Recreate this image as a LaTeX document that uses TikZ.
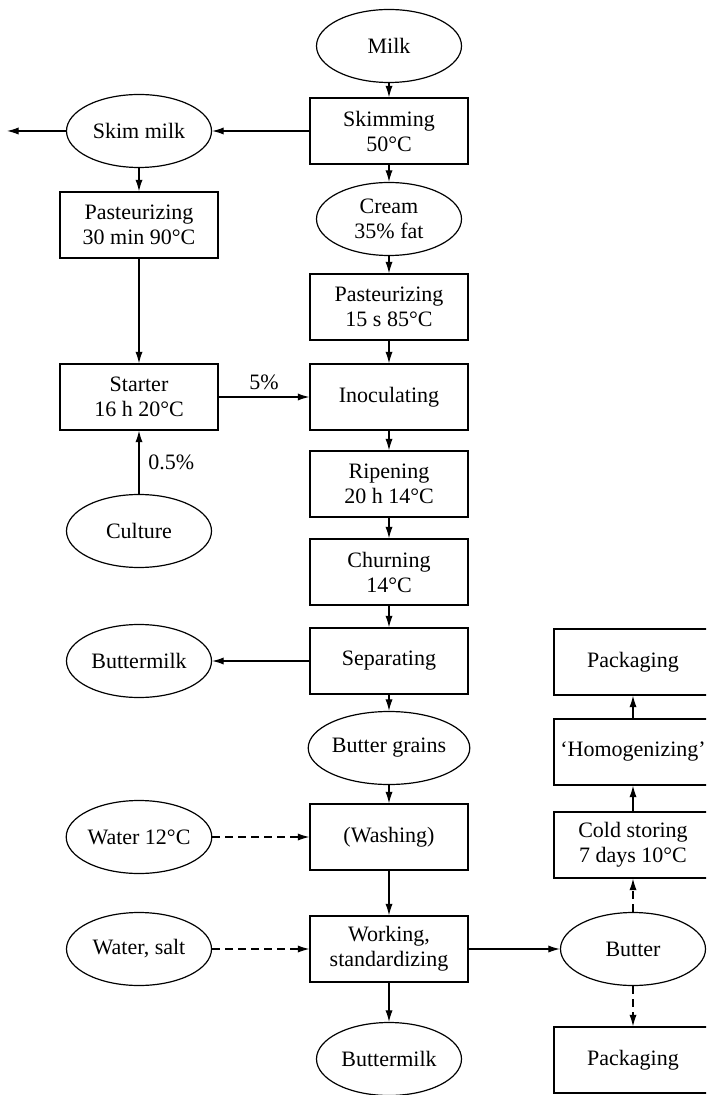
\documentclass[tikz,border=0pt]{standalone}
\usepackage{fontspec}
\setmainfont{Liberation Serif}
\usetikzlibrary{arrows.meta,shapes.geometric}
\begin{document}
\begin{tikzpicture}[x=0.5pt,y=-0.5pt,
  every node/.style={font=\fontsize{11}{12.5}\selectfont, align=center},
  procbox/.style={draw, line width=0.6pt, minimum width=79pt, minimum height=33pt, inner sep=1pt},
  matl/.style={draw, ellipse, line width=0.6pt, minimum width=72.5pt, minimum height=36.5pt, inner sep=0pt},
  flow/.style={line width=0.6pt, -{Latex[length=5.8pt,width=3.6pt]}},
  dflow/.style={flow, dash pattern=on 4pt off 2.5pt},
  lbl/.style={font=\fontsize{11}{12.5}\selectfont}
]
\clip (0,0) rectangle (706,1095);
% main column
\node[matl] (milk) at (389,46) {Milk};
\node[procbox] (skim) at (389,131) {Skimming\\50°C};
\node[matl] (cream) at (389,219) {Cream\\35\% fat};
\node[procbox] (past2) at (389,307) {Pasteurizing\\15 s 85°C};
\node[procbox] (inoc) at (389,397) {Inoculating};
\node[procbox] (ripe) at (389,484) {Ripening\\20 h 14°C};
\node[procbox] (churn) at (389,572) {Churning\\14°C};
\node[procbox] (sep) at (389,661) {Separating};
\node[matl] (grains) at (389,748) {Butter grains};
\node[procbox] (wash) at (389,837) {(Washing)};
\node[procbox] (work) at (389,949) {Working,\\standardizing};
\node[matl] (bm2) at (389,1059) {Buttermilk};
% left column
\node[matl] (skimmilk) at (139,131) {Skim milk};
\coordinate (skimout) at (7,131);
\node[procbox] (past1) at (139,225) {Pasteurizing\\30 min 90°C};
\node[procbox] (starter) at (139,397) {Starter\\16 h 20°C};
\node[matl] (culture) at (139,531) {Culture};
\node[matl] (bm1) at (139,661) {Buttermilk};
\node[matl] (water1) at (139,837) {Water 12°C};
\node[matl] (water2) at (139,949) {Water, salt};
% right column
\node[procbox] (pack1) at (633,662) {Packaging};
\node[procbox] (homog) at (633,752) {‘Homogenizing’};
\node[procbox] (cold) at (633,845) {Cold storing\\7 days 10°C};
\node[matl] (butter) at (633,949) {Butter};
\node[procbox] (pack2) at (633,1060) {Packaging};
% connectors
\draw[flow] (milk) -- (skim);
\draw[flow] (skim) -- (cream);
\draw[flow] (cream) -- (past2);
\draw[flow] (past2) -- (inoc);
\draw[flow] (inoc) -- (ripe);
\draw[flow] (ripe) -- (churn);
\draw[flow] (churn) -- (sep);
\draw[flow] (sep) -- (grains);
\draw[flow] (grains) -- (wash);
\draw[flow] (wash) -- (work);
\draw[flow] (work) -- (bm2);
\draw[flow] (skim) -- (skimmilk);
\draw[flow] (skimmilk) -- (skimout);
\draw[flow] (skimmilk) -- (past1);
\draw[flow] (past1) -- (starter);
\draw[flow] (starter) -- node[lbl, above, pos=0.5] {5\%} (inoc);
\draw[flow] (culture) -- node[lbl, right, pos=0.5, xshift=1pt] {0.5\%} (starter);
\draw[flow] (sep) -- (bm1);
\draw[dflow] (water1) -- (wash);
\draw[dflow] (water2) -- (work);
\draw[flow] (work) -- (butter);
\draw[dflow] (butter) -- (cold);
\draw[flow] (cold) -- (homog);
\draw[flow] (homog) -- (pack1);
\draw[dflow] (butter) -- (pack2);
\end{tikzpicture}
\end{document}
